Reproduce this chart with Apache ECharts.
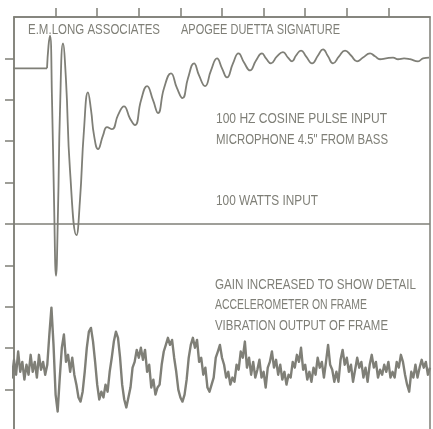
<!DOCTYPE html>
<html>
<head>
<meta charset="utf-8">
<script src="https://cdn.jsdelivr.net/npm/echarts@6/dist/echarts.min.js"></script>
<style>
html,body{margin:0;padding:0;background:#ffffff;}
#chart{width:433px;height:429px;}
</style>
</head>
<body>
<div id="chart"></div>
<script>
// ---- data (time in ms, amplitude in screen divisions) ----
const timeTicks = [5, 10, 15, 20, 25, 30, 35, 40, 45];
const ampTicks = [-4, -3, -2, -1, 0, 1, 2, 3, 4];

// microphone response (upper trace)
const micTime = [-0.48, 3.97, 4.15, 4.33, 4.57, 4.81, 5.05, 5.29, 5.53, 5.89,
  6.25, 6.73, 7.51, 7.93, 8.41, 8.89, 9.26, 9.62, 10.10, 10.70,
  11.18, 11.78, 12.50, 13.22, 13.94, 14.54, 15.27, 15.99, 16.71, 17.31,
  18.03, 18.87, 19.59, 20.25, 20.91, 21.64, 22.24, 22.96, 23.68, 24.40,
  25.00, 25.60, 26.32, 26.98, 27.65, 28.37, 29.09, 29.81, 30.29, 30.89,
  31.61, 32.33, 32.93, 33.42, 33.90, 34.50, 35.10, 35.82, 36.54, 37.14,
  37.74, 38.34, 39.07, 39.79, 40.51, 41.23, 41.95, 42.79, 43.39, 43.99,
  44.71, 45.56, 46.16, 46.88, 47.60, 48.56, 49.16, 49.88];
const micAmp = [3.76, 3.76, 4.31, 4.55, 2.99, 0.58, -1.25, 0.34, 2.75, 4.36,
  3.47, 1.30, -0.27, 0.58, 2.27, 3.18, 2.75, 2.14, 1.81, 2.14,
  2.34, 2.29, 2.63, 2.84, 2.55, 2.39, 2.99, 3.33, 2.99, 2.68,
  3.28, 3.64, 3.28, 3.04, 3.52, 3.88, 3.59, 3.33, 3.71, 4.00,
  3.76, 3.54, 3.88, 4.12, 3.90, 3.71, 3.95, 4.12, 4.00, 3.88,
  4.05, 4.15, 4.02, 3.93, 4.07, 4.19, 4.05, 3.88, 4.07, 4.22,
  4.05, 3.88, 4.05, 4.19, 4.07, 3.93, 4.02, 4.12, 4.05, 3.98,
  4.00, 4.02, 3.98, 4.00, 3.98, 3.93, 4.00, 4.02];

// accelerometer on frame (lower trace), sampled every 0.25 ms from -0.5 ms
const accelStart = -0.5;
const accelStep = 0.25;
const accelAmp = [
  -3.47, -3.71, -3.28, -3.64, -3.08, -3.57, -3.33, -3.76, -3.40, -3.64,
  -3.16, -3.57, -3.33, -3.71, -3.16, -3.52, -3.33, -3.64, -3.40, -2.67,
  -2.02, -2.92, -4.12, -4.53, -3.71, -2.99, -2.67, -3.33, -3.16, -3.57,
  -3.23, -3.64, -3.88, -4.19, -4.29, -4.05, -3.57, -2.99, -2.60, -2.51,
  -2.84, -3.33, -3.88, -4.24, -4.05, -4.19, -3.88, -4.05, -3.57, -3.23,
  -2.84, -2.60, -2.75, -3.23, -3.88, -4.24, -4.43, -4.19, -3.95, -3.47,
  -3.33, -3.04, -3.23, -2.99, -3.28, -3.04, -3.57, -3.40, -3.95, -3.76,
  -4.12, -3.95, -3.88, -3.40, -3.08, -2.92, -2.75, -2.92, -2.80, -3.23,
  -3.57, -4.00, -4.19, -4.29, -4.12, -3.76, -3.23, -2.92, -2.75, -2.99,
  -2.80, -3.33, -3.23, -3.64, -3.47, -3.95, -4.05, -3.88, -3.71, -3.23,
  -3.08, -2.92, -3.23, -3.40, -3.71, -3.57, -3.88, -3.71, -3.81, -3.40,
  -3.52, -3.08, -3.23, -2.84, -3.47, -3.23, -3.64, -3.33, -3.71, -3.52,
  -3.28, -3.71, -3.57, -3.95, -3.47, -3.33, -3.08, -3.47, -3.28, -3.64,
  -3.40, -3.76, -3.57, -3.88, -3.64, -3.71, -3.33, -3.47, -3.16, -3.33,
  -2.99, -3.52, -3.40, -3.76, -3.57, -3.81, -3.47, -3.64, -3.23, -3.47,
  -3.33, -3.71, -3.33, -2.92, -3.40, -3.52, -3.81, -3.57, -3.81, -3.28,
  -3.04, -3.40, -3.23, -3.57, -3.40, -3.81, -3.52, -3.23, -3.47, -3.33,
  -3.71, -3.47, -3.81, -3.40, -3.16, -3.47, -3.33, -3.71, -3.52, -3.64,
  -3.40, -3.57, -3.33, -3.71, -3.57, -3.71, -3.33, -3.47, -3.16, -3.33,
  -3.64, -3.88, -4.05, -3.57, -3.71, -3.40, -3.71, -3.47, -3.28, -3.47,
  -3.33, -3.64, -3.47];

// annotation texts
const titleLeft = 'E.M.LONG ASSOCIATES';
const titleRight = 'APOGEE DUETTA SIGNATURE';
const upperNotes = ['100 HZ COSINE PULSE INPUT', 'MICROPHONE 4.5" FROM BASS'];
const powerNote = '100 WATTS INPUT';
const lowerNotes = ['GAIN INCREASED TO SHOW DETAIL', 'ACCELEROMETER ON FRAME', 'VIBRATION OUTPUT OF FRAME'];

// ---- chart ----
const INK = '#7f7f77';
const FONT = '15.5px "Liberation Sans", Arial, sans-serif';
const measureCtx = document.createElement('canvas').getContext('2d');
measureCtx.font = FONT;
function label(text, left, cy, width) {
  const w = measureCtx.measureText(text).width;
  return {
    type: 'text', x: left, y: cy, scaleX: width / w, silent: true,
    style: { text: text, font: FONT, fill: INK, textAlign: 'left', textVerticalAlign: 'middle' }
  };
}

const micPairs = micTime.map((t, i) => [t, micAmp[i]]);
const accelPairs = accelAmp.map((v, i) => [accelStart + i * accelStep, v]);

const chart = echarts.init(document.getElementById('chart'), null, { renderer: 'canvas' });
chart.setOption({
  animation: false,
  backgroundColor: '#ffffff',
  grid: {
    left: 14, top: 17, width: 416, height: 414,
    outerBoundsMode: 'none', containLabel: false,
    show: true, borderColor: INK, borderWidth: 1.5, backgroundColor: 'transparent'
  },
  xAxis: {
    type: 'value', position: 'top', min: 0, max: 50, interval: 5,
    axisLine: { show: true, onZero: false, lineStyle: { color: INK, width: 1.5 } },
    axisTick: { show: true, inside: false, length: 9, customValues: timeTicks, lineStyle: { color: INK, width: 1.5 } },
    axisLabel: { show: false },
    splitLine: { show: false }
  },
  yAxis: {
    type: 'value', position: 'left', min: -5, max: 5, interval: 1,
    axisLine: { show: true, onZero: false, lineStyle: { color: INK, width: 1.5 } },
    axisTick: { show: true, inside: false, length: 9, customValues: ampTicks, lineStyle: { color: INK, width: 1.5 } },
    axisLabel: { show: false },
    splitLine: { show: false }
  },
  series: [
    {
      type: 'line', data: micPairs.slice(0, 2), showSymbol: false, clip: false,
      lineStyle: { color: INK, width: 1.8 }, silent: true,
      markLine: {
        silent: true, symbol: ['none', 'none'], label: { show: false },
        lineStyle: { color: INK, width: 1.5, type: 'solid' },
        data: [{ yAxis: 0 }]
      }
    },
    {
      type: 'line', data: micPairs.slice(1), showSymbol: false, clip: false,
      smooth: 0.5,
      lineStyle: { color: INK, width: 1.8 }, silent: true
    },
    {
      type: 'line', data: accelPairs, showSymbol: false, clip: false,
      lineStyle: { color: INK, width: 2.4, join: 'round' }, silent: true
    }
  ],
  graphic: [
    label(titleLeft, 28, 29.5, 132),
    label(titleRight, 181, 29.5, 159),
    label(upperNotes[0], 216, 118.5, 171),
    label(upperNotes[1], 216, 140, 172),
    label(powerNote, 216, 200.5, 102),
    label(lowerNotes[0], 215, 285, 201),
    label(lowerNotes[1], 215, 305, 152),
    label(lowerNotes[2], 215, 326, 173)
  ]
});
</script>
</body>
</html>
